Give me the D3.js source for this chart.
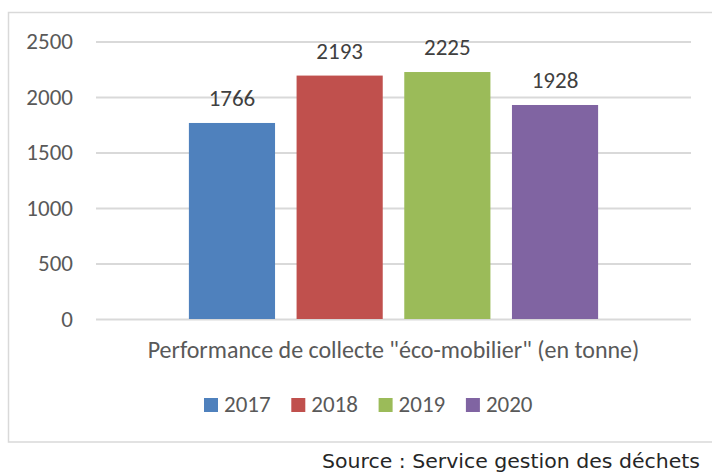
<!DOCTYPE html>
<html>
<head>
<meta charset="utf-8">
<script src="https://cdn.jsdelivr.net/npm/d3@7"></script>
<style>
  html, body { margin: 0; padding: 0; background: #ffffff; }
  svg { display: block; }
  text { font-family: Carlito, Calibri, Lato, "Noto Sans", sans-serif; }
</style>
</head>
<body>
<svg id="chart" width="712" height="474"></svg>
<script>
// Collection tonnage per year
const categories = ['Performance de collecte "éco-mobilier" (en tonne)'];
const years = ["2017", "2018", "2019", "2020"];
const values = [1766, 2193, 2225, 1928];
const colors = ["#4F81BD", "#C0504D", "#9BBB59", "#8064A2"];
const yTicks = [0, 500, 1000, 1500, 2000, 2500];
const sourceText = "Source : Service gestion des déchets";

const svg = d3.select("#chart");
const textColor = "#595959";
const gridColor = "#D9D9D9";
const fontSize = "23px";

// Chart frame
svg.append("rect")
  .attr("x", 8.5).attr("y", 12.5)
  .attr("width", 710).attr("height", 429.5)
  .attr("fill", "#fff")
  .attr("stroke", gridColor).attr("stroke-width", 1.5);

const plot = { left: 96, right: 691, top: 41.5, bottom: 319 };

const y = d3.scaleLinear().domain([0, 2500]).range([plot.bottom, plot.top]);
const x0 = d3.scaleBand().domain(categories)
  .range([plot.left, plot.right]).paddingInner(0.185).paddingOuter(0.185);
const x1 = d3.scaleBand().domain(years)
  .range([x0(categories[0]), x0(categories[0]) + x0.bandwidth()]).paddingInner(0.2);

// Horizontal gridlines and tick labels
const yAxis = d3.axisLeft(y).tickValues(yTicks).tickFormat(d3.format("d"))
  .tickSize(-(plot.right - plot.left)).tickPadding(23);
const gy = svg.append("g").attr("transform", `translate(${plot.left},0)`).call(yAxis);
gy.select(".domain").remove();
gy.selectAll(".tick line").attr("stroke", gridColor).attr("stroke-width", 2);
gy.selectAll(".tick text")
  .attr("fill", textColor)
  .attr("font-family", null)
  .style("font-size", fontSize);

// Bars
const data = years.map((yr, i) => ({ year: yr, value: values[i], color: colors[i] }));
svg.append("g").selectAll("rect")
  .data(data).join("rect")
  .attr("x", d => x1(d.year))
  .attr("y", d => y(d.value))
  .attr("width", x1.bandwidth())
  .attr("height", d => y(0) - y(d.value))
  .attr("fill", d => d.color);

// Value labels
svg.append("g").selectAll("text")
  .data(data).join("text")
  .attr("x", d => x1(d.year) + x1.bandwidth() / 2)
  .attr("y", d => y(d.value) - 17)
  .attr("text-anchor", "middle")
  .attr("fill", "#404040")
  .style("font-size", fontSize)
  .text(d => d.value);

// Category axis label
svg.append("text")
  .attr("x", x0(categories[0]) + x0.bandwidth() / 2)
  .attr("y", 358)
  .attr("text-anchor", "middle")
  .attr("fill", textColor)
  .style("font-size", "24px")
  .text(categories[0]);

// Legend
const legend = svg.append("g").selectAll("g")
  .data(data).join("g")
  .attr("transform", (d, i) => `translate(${204 + i * 87.3},398)`);
legend.append("rect")
  .attr("width", 14).attr("height", 14)
  .attr("fill", d => d.color);
legend.append("text")
  .attr("x", 20).attr("y", 14)
  .attr("fill", textColor)
  .style("font-size", fontSize)
  .text(d => d.year);

// Source note
svg.append("text")
  .attr("x", 700).attr("y", 468)
  .attr("text-anchor", "end")
  .attr("fill", "#262626")
  .style("font-size", "19px")
  .style("font-family", "'URW Gothic', 'Century Gothic', 'DejaVu Sans', sans-serif")
  .attr("textLength", 378)
  .attr("lengthAdjust", "spacingAndGlyphs")
  .text(sourceText);
</script>
</body>
</html>
